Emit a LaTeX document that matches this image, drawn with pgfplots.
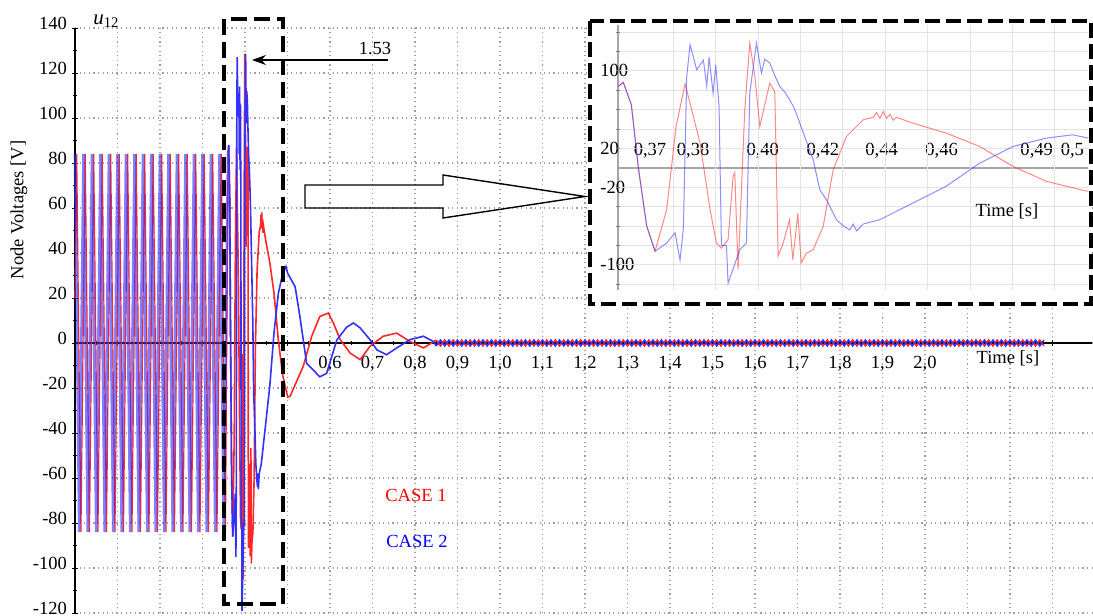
\documentclass[border=0pt]{standalone}
\usepackage{pgfplots}
\pgfplotsset{compat=1.18}
\usepackage{pgfplotstable}
\usepackage{fontspec}
\setmainfont{Liberation Serif}
\usetikzlibrary{arrows.meta}
\definecolor{cred}{RGB}{255,40,40}
\definecolor{cblue}{RGB}{50,50,255}
\newcommand{\lbl}{\fontsize{9.3}{11}\selectfont}

\pgfplotstableread[row sep=\\]{
t v\\
0 84\\0.01 -84\\0.02 84\\0.03 -84\\0.04 84\\0.05 -84\\0.06 84\\0.07 -84\\0.08 84\\0.09 -84\\
0.10 84\\0.11 -84\\0.12 84\\0.13 -84\\0.14 84\\0.15 -84\\0.16 84\\0.17 -84\\0.18 84\\0.19 -84\\
0.20 84\\0.21 -84\\0.22 84\\0.23 -84\\0.24 84\\0.25 -84\\0.26 84\\0.27 -84\\0.28 84\\0.29 -84\\
0.30 84\\0.31 -84\\0.32 84\\0.33 -84\\0.34 84\\0.35 -84\\0.3601 84\\
}\bluepre

\pgfplotstableread[row sep=\\]{
t v\\
0 20\\0.004 84\\0.014 -84\\0.024 84\\0.034 -84\\0.044 84\\0.054 -84\\0.064 84\\0.074 -84\\0.084 84\\0.094 -84\\
0.104 84\\0.114 -84\\0.124 84\\0.134 -84\\0.144 84\\0.154 -84\\0.164 84\\0.174 -84\\0.184 84\\0.194 -84\\
0.204 84\\0.214 -84\\0.224 84\\0.234 -84\\0.244 84\\0.254 -84\\0.264 84\\0.274 -84\\0.284 84\\0.294 -84\\
0.304 84\\0.314 -84\\0.324 84\\0.334 -84\\0.344 84\\0.354 -84\\0.3601 84\\
}\redpre

\pgfplotstableread[row sep=\\]{
t v\\
0.3601 84\\0.3616 88\\0.3640 65\\0.3661 0\\0.3686 -60\\0.3711 -86\\
0.3746 -43\\0.3774 42.6\\0.3801 86.6\\0.3846 25.4\\0.3876 -43\\0.3895 -77.7\\0.3910 -82.8\\
0.3930 -74\\0.3945 -9\\0.3950 -5\\0.3960 -105\\0.3980 60\\0.3995 128.5\\0.4010 95\\
0.4025 42.6\\0.4055 87.3\\0.4070 78\\0.4080 -91\\0.4095 -77.7\\0.4114 -53.6\\0.4124 -94.8\\
0.4139 -46.7\\0.4149 -98\\0.4165 -88\\0.4185 -84.5\\0.4215 -60.5\\0.4245 -2\\0.4285 32.3\\
0.4335 49.5\\0.4365 52\\0.4375 57\\0.4385 51\\0.4395 58\\0.4405 51\\0.4415 55\\0.4425 49\\
0.4435 52\\0.4484 46\\0.4584 35.7\\0.4684 22\\0.4784 1.4\\0.4884 -14\\0.5004 -24\\
0.506 -23.7\\0.537 -10.4\\0.557 3\\0.576 11.8\\0.596 13.3\\0.608 8.9\\0.624 1.5\\
0.647 -4.4\\0.671 -7.4\\0.694 -1.5\\0.725 3\\0.757 4.4\\0.788 0.7\\0.82 -2.2\\0.85 1.3\\
}\redpost

\pgfplotstableread[row sep=\\]{
t v\\
0.3601 84\\0.3616 88\\0.3640 65\\0.3661 0\\0.3686 -60\\0.3711 -86\\
0.3746 -77.6\\0.3771 -67\\0.3786 -95\\0.3796 -62\\0.3806 94\\0.3816 127\\0.3836 101\\
0.3856 111\\0.3866 84\\0.3873 114\\0.3885 77\\0.3893 106\\0.3903 63\\0.3910 -80\\
0.3925 -80\\0.3930 -119\\0.3965 -84.5\\0.3985 -77.6\\0.3995 77\\0.4015 128.5\\0.4030 97.6\\
0.4040 112\\0.4055 108\\0.4070 95\\0.4085 83.8\\0.4100 78\\0.4115 70\\0.4130 60\\
0.4145 46\\0.4185 8.2\\0.4205 -22.7\\0.4225 -33\\0.4255 -53.6\\0.4275 -60\\0.4295 -64\\
0.4305 -58\\0.4315 -65\\0.4335 -58\\0.4384 -53.6\\0.4434 -45\\0.4484 -36.4\\0.4584 -19\\
0.4684 4.8\\0.4784 22\\0.4884 30.6\\0.4963 34\\0.5004 31\\0.518 25\\0.529 12\\
0.545 -9\\0.576 -15\\0.592 -13.5\\0.616 1.3\\0.639 7\\0.655 8.9\\0.671 6.7\\0.694 1.5\\
0.71 -3\\0.733 -5.2\\0.757 -2.2\\0.788 1.5\\0.82 3\\0.843 0.7\\0.85 -1.3\\
}\bluepost

\pgfplotstableread[row sep=\\]{
t b r\\
0.85 -1.3 1.3\\0.86 1.3 -1.3\\0.87 -1.3 1.3\\0.88 1.3 -1.3\\0.89 -1.3 1.3\\0.90 1.3 -1.3\\
0.91 -1.3 1.3\\0.92 1.3 -1.3\\0.93 -1.3 1.3\\0.94 1.3 -1.3\\0.95 -1.3 1.3\\0.96 1.3 -1.3\\0.97 -1.3 1.3\\0.98 1.3 -1.3\\0.99 -1.3 1.3\\1.00 1.3 -1.3\\
1.01 -1.3 1.3\\1.02 1.3 -1.3\\1.03 -1.3 1.3\\1.04 1.3 -1.3\\1.05 -1.3 1.3\\1.06 1.3 -1.3\\1.07 -1.3 1.3\\1.08 1.3 -1.3\\1.09 -1.3 1.3\\1.10 1.3 -1.3\\
1.11 -1.3 1.3\\1.12 1.3 -1.3\\1.13 -1.3 1.3\\1.14 1.3 -1.3\\1.15 -1.3 1.3\\1.16 1.3 -1.3\\1.17 -1.3 1.3\\1.18 1.3 -1.3\\1.19 -1.3 1.3\\1.20 1.3 -1.3\\
1.21 -1.3 1.3\\1.22 1.3 -1.3\\1.23 -1.3 1.3\\1.24 1.3 -1.3\\1.25 -1.3 1.3\\1.26 1.3 -1.3\\1.27 -1.3 1.3\\1.28 1.3 -1.3\\1.29 -1.3 1.3\\1.30 1.3 -1.3\\
1.31 -1.3 1.3\\1.32 1.3 -1.3\\1.33 -1.3 1.3\\1.34 1.3 -1.3\\1.35 -1.3 1.3\\1.36 1.3 -1.3\\1.37 -1.3 1.3\\1.38 1.3 -1.3\\1.39 -1.3 1.3\\1.40 1.3 -1.3\\
1.41 -1.3 1.3\\1.42 1.3 -1.3\\1.43 -1.3 1.3\\1.44 1.3 -1.3\\1.45 -1.3 1.3\\1.46 1.3 -1.3\\1.47 -1.3 1.3\\1.48 1.3 -1.3\\1.49 -1.3 1.3\\1.50 1.3 -1.3\\
1.51 -1.3 1.3\\1.52 1.3 -1.3\\1.53 -1.3 1.3\\1.54 1.3 -1.3\\1.55 -1.3 1.3\\1.56 1.3 -1.3\\1.57 -1.3 1.3\\1.58 1.3 -1.3\\1.59 -1.3 1.3\\1.60 1.3 -1.3\\
1.61 -1.3 1.3\\1.62 1.3 -1.3\\1.63 -1.3 1.3\\1.64 1.3 -1.3\\1.65 -1.3 1.3\\1.66 1.3 -1.3\\1.67 -1.3 1.3\\1.68 1.3 -1.3\\1.69 -1.3 1.3\\1.70 1.3 -1.3\\
1.71 -1.3 1.3\\1.72 1.3 -1.3\\1.73 -1.3 1.3\\1.74 1.3 -1.3\\1.75 -1.3 1.3\\1.76 1.3 -1.3\\1.77 -1.3 1.3\\1.78 1.3 -1.3\\1.79 -1.3 1.3\\1.80 1.3 -1.3\\
1.81 -1.3 1.3\\1.82 1.3 -1.3\\1.83 -1.3 1.3\\1.84 1.3 -1.3\\1.85 -1.3 1.3\\1.86 1.3 -1.3\\1.87 -1.3 1.3\\1.88 1.3 -1.3\\1.89 -1.3 1.3\\1.90 1.3 -1.3\\
1.91 -1.3 1.3\\1.92 1.3 -1.3\\1.93 -1.3 1.3\\1.94 1.3 -1.3\\1.95 -1.3 1.3\\1.96 1.3 -1.3\\1.97 -1.3 1.3\\1.98 1.3 -1.3\\1.99 -1.3 1.3\\2.00 1.3 -1.3\\
2.01 -1.3 1.3\\2.02 1.3 -1.3\\2.03 -1.3 1.3\\2.04 1.3 -1.3\\2.05 -1.3 1.3\\2.06 1.3 -1.3\\2.07 -1.3 1.3\\2.08 1.3 -1.3\\2.09 -1.3 1.3\\2.10 1.3 -1.3\\
2.11 -1.3 1.3\\2.12 1.3 -1.3\\2.13 -1.3 1.3\\2.14 1.3 -1.3\\2.15 -1.3 1.3\\2.16 1.3 -1.3\\2.17 -1.3 1.3\\2.18 1.3 -1.3\\2.19 -1.3 1.3\\2.20 1.3 -1.3\\
2.21 -1.3 1.3\\2.22 1.3 -1.3\\2.23 -1.3 1.3\\2.24 1.3 -1.3\\2.25 -1.3 1.3\\2.26 1.3 -1.3\\2.27 -1.3 1.3\\2.28 1.3 -1.3\\
}\ripple

\begin{document}
\begin{tikzpicture}
\useasboundingbox (0,0) rectangle (546.5bp,-308bp);
\begin{axis}[
  at={(37.5bp,-306.5bp)}, anchor=south west,
  scale only axis, width=508.5bp, height=292.5bp,
  xmin=0, xmax=2.393, ymin=-120, ymax=140,
  axis x line=middle, axis y line=left,
  axis line style={-, line width=0.7bp},
  every inner x axis line/.append style={-},
  every outer y axis line/.append style={-},
  every inner y axis line/.append style={-},
  xtick={0,0.1,0.2,0.3,0.4,0.5,0.6,0.7,0.8,0.9,1.0,1.1,1.2,1.3,1.4,1.5,1.6,1.7,1.8,1.9,2.0,2.1,2.2,2.3},
  xticklabels={,,,,,,{0,6},{0,7},{0,8},{0,9},{1,0},{1,1},{1,2},{1,3},{1,4},{1,5},{1,6},{1,7},{1,8},{1,9},{2,0},,,},
  minor x tick num=1,
  ytick={-120,-100,-80,-60,-40,-20,0,20,40,60,80,100,120,140},
  yticklabels={-120,-100,-80,-60,-40,-20,0,20,40,60,80,100,120,140},
  minor y tick num=1,
  hide obscured x ticks=false, hide obscured y ticks=false,
  tick align=center, major tick length=3bp, minor tick length=2bp,
  tick style={black, line width=0.5bp},
  yticklabel style={anchor=east, yshift=2.5bp, xshift=1bp},
  xticklabel style={yshift=-1.5bp},
  tick label style={font=\lbl},
  grid=major,
  major grid style={gray!75, line width=0.6bp, dash pattern=on 0.6bp off 1.7bp},
  clip=false,
]
\addplot[cred, line width=0.6bp] table {\redpre};
\addplot[cblue, opacity=0.62, line width=1.3bp] table {\bluepre};
\addplot[cred, line width=0.8bp] table {\redpost};
\addplot[cred, line width=0.8bp] table[x=t,y=r] {\ripple};
\addplot[cblue, line width=0.8bp] table {\bluepost};
\addplot[cblue, line width=0.8bp] table[x=t,y=b] {\ripple};
\end{axis}

\begin{scope}[x=0.5bp,y=-0.5bp]
\draw[line width=2bp, dash pattern=on 8bp off 3.5bp] (224,19) rectangle (283,604);
\draw[line width=0.7bp] (305,185) -- (443,185) -- (443,175) -- (585,196.5) -- (443,218) -- (443,208) -- (305,208) -- cycle;
\draw[line width=0.6bp, -{Stealth[length=7bp,width=5bp]}] (388,60) -- (252,60);
\node[font=\lbl] at (375,48) {1.53};
\node[font=\lbl, rotate=90] at (19,210) {Node Voltages [V]};
\node[font=\fontsize{10.5}{12}\selectfont, anchor=west, inner sep=0pt] at (93,21) {\textit{u}\textsubscript{12}};
\node[font=\lbl] at (1008,358) {Time [s]};
\node[font=\lbl, text=red] at (416,495) {CASE 1};
\node[font=\lbl, text=blue] at (417,541) {CASE 2};
\fill[white] (590,21) rectangle (1091,304);
\end{scope}

\begin{axis}[
  at={(309bp,-145bp)}, anchor=south west,
  scale only axis, width=235.2bp, height=132.4bp,
  xmin=0.36, xmax=0.501, ymin=-126, ymax=147,
  axis x line=middle, axis y line=left,
  axis line style={-, gray!70, line width=0.8bp},
  every inner x axis line/.append style={-},
  every outer y axis line/.append style={-},
  every inner y axis line/.append style={-},
  xtick={0.3696,0.3825,0.4034,0.4214,0.439,0.457,0.4855,0.4962},
  xticklabels={{0,37},{0,38},{0,40},{0,42},{0,44},{0,46},{0,49},{0,5}},
  xticklabel style={anchor=south, yshift=2bp},
  x tick style={draw=none},
  ytick={-100,-20,20,100},
  yticklabels={-100,-20,20,100},
  yticklabel style={anchor=west, xshift=-8bp, inner sep=0pt},
  y tick style={gray, line width=0.4bp},
  major tick length=2bp,
  hide obscured x ticks=false, hide obscured y ticks=false,
  extra x ticks={0.3766,0.3893,0.4020,0.4147,0.4274,0.4401,0.4528,0.4655,0.4782,0.4909},
  extra x tick labels={},
  extra x tick style={grid=major, tick style={draw=none}},
  extra y ticks={-120,-100,-80,-60,-40,-20,20,40,60,80,100,120,140},
  extra y tick labels={},
  extra y tick style={grid=major},
  major grid style={gray!22, line width=0.4bp},
  tick label style={font=\lbl},
]
\addplot[cred, opacity=0.55, line width=0.5bp] table {\redpost};
\addplot[cblue, opacity=0.55, line width=0.5bp] table {\bluepost};
\end{axis}

\begin{scope}[x=0.5bp,y=-0.5bp]
\node[font=\lbl] at (1007,211) {Time [s]};
\draw[line width=2bp, dash pattern=on 7.5bp off 3bp] (590,21) rectangle (1091,304);
\end{scope}
\end{tikzpicture}
\end{document}
